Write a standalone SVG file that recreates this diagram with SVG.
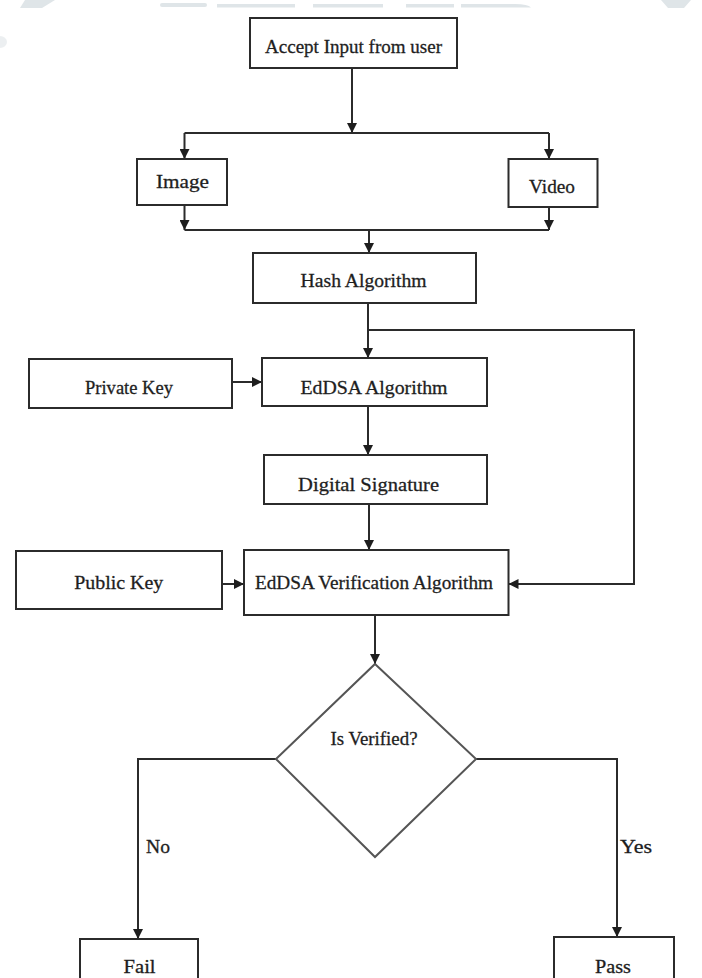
<svg xmlns="http://www.w3.org/2000/svg" width="702" height="978" viewBox="0 0 702 978">
<style>
.box{fill:#fff;stroke:#2b2b2b;stroke-width:2}
.dia{fill:#fff;stroke:#555;stroke-width:2}
.ln{fill:none;stroke:#2b2b2b;stroke-width:2}
.t{font-family:"Liberation Serif","Times New Roman",serif;font-size:19.5px;fill:#1e1e1e;stroke:#1e1e1e;stroke-width:0.3;text-anchor:middle}
.ts{text-anchor:start}
.wm{fill:#dfe5e8}
</style>
<defs>
<marker id="ah" viewBox="0 0 10 10" refX="10" refY="5" markerWidth="10" markerHeight="10" markerUnits="userSpaceOnUse" orient="auto">
<path d="M0,0 L10,5 L0,10 z" fill="#1e1e1e"/>
</marker>
</defs>
<rect width="702" height="978" fill="#fff"/>
<g id="watermark">
<polygon class="wm" points="25,0 55,0 42,8 20,8"/>
<rect class="wm" x="160" y="3" width="47" height="4" rx="2"/>
<rect class="wm" x="217" y="4" width="78" height="3.5"/>
<rect class="wm" x="313" y="4" width="70" height="3.5"/>
<rect class="wm" x="406" y="4" width="48" height="3.5"/>
<path class="wm" d="M461,4 L515,4 Q528,4 531,7.5 L461,7.5 z"/>
<polygon class="wm" points="661,0 691,0 684,8 668,8"/>
<ellipse class="wm" cx="0" cy="42" rx="7" ry="6" opacity="0.6"/>
</g>
<g id="connectors">
<line class="ln" x1="352" y1="68" x2="352" y2="133" marker-end="url(#ah)"/>
<line class="ln" x1="184.5" y1="133" x2="549" y2="133"/>
<line class="ln" x1="184.5" y1="133" x2="184.5" y2="159" marker-end="url(#ah)"/>
<line class="ln" x1="549" y1="133" x2="549" y2="159" marker-end="url(#ah)"/>
<line class="ln" x1="184.5" y1="205" x2="184.5" y2="230" marker-end="url(#ah)"/>
<line class="ln" x1="549" y1="207" x2="549" y2="230" marker-end="url(#ah)"/>
<line class="ln" x1="184.5" y1="230" x2="549" y2="230"/>
<line class="ln" x1="369" y1="230" x2="369" y2="253" marker-end="url(#ah)"/>
<line class="ln" x1="368" y1="303" x2="368" y2="358" marker-end="url(#ah)"/>
<polyline class="ln" points="368,330 634,330 634,584 508.5,584" marker-end="url(#ah)"/>
<line class="ln" x1="232" y1="382" x2="262" y2="382" marker-end="url(#ah)"/>
<line class="ln" x1="368" y1="406" x2="368" y2="455" marker-end="url(#ah)"/>
<line class="ln" x1="369" y1="504" x2="369" y2="550" marker-end="url(#ah)"/>
<line class="ln" x1="222" y1="584" x2="244" y2="584" marker-end="url(#ah)"/>
<line class="ln" x1="375" y1="615" x2="375" y2="664" marker-end="url(#ah)"/>
<polyline class="ln" points="276,759 138,759 138,939" marker-end="url(#ah)"/>
<polyline class="ln" points="476,759 617,759 617,937" marker-end="url(#ah)"/>
<text class="t ts" x="146" y="853" textLength="24" lengthAdjust="spacingAndGlyphs">No</text>
<text class="t ts" x="620" y="853" textLength="32" lengthAdjust="spacingAndGlyphs">Yes</text>
</g>
<g id="accept">
<rect class="box" x="250" y="18" width="207" height="50"/>
<text class="t" x="353.5" y="53" textLength="177" lengthAdjust="spacingAndGlyphs">Accept Input from user</text>
</g>
<g id="image">
<rect class="box" x="137" y="159" width="90" height="46"/>
<text class="t" x="182.5" y="188" textLength="53" lengthAdjust="spacingAndGlyphs">Image</text>
</g>
<g id="video">
<rect class="box" x="508.5" y="159" width="89" height="48"/>
<text class="t" x="552" y="193" textLength="46" lengthAdjust="spacingAndGlyphs">Video</text>
</g>
<g id="hash">
<rect class="box" x="253" y="253" width="223" height="50"/>
<text class="t" x="363.6" y="287" textLength="126" lengthAdjust="spacingAndGlyphs">Hash Algorithm</text>
</g>
<g id="private-key">
<rect class="box" x="29" y="359" width="203" height="49"/>
<text class="t" x="129" y="394" textLength="88" lengthAdjust="spacingAndGlyphs">Private Key</text>
</g>
<g id="eddsa">
<rect class="box" x="262" y="358" width="225" height="48"/>
<text class="t" x="374" y="394" textLength="147" lengthAdjust="spacingAndGlyphs">EdDSA Algorithm</text>
</g>
<g id="digital-signature">
<rect class="box" x="264" y="455" width="223" height="49"/>
<text class="t" x="368.6" y="491" textLength="141" lengthAdjust="spacingAndGlyphs">Digital Signature</text>
</g>
<g id="public-key">
<rect class="box" x="16" y="551" width="206" height="58"/>
<text class="t" x="118.7" y="589" textLength="89" lengthAdjust="spacingAndGlyphs">Public Key</text>
</g>
<g id="verification">
<rect class="box" x="244" y="550" width="264.5" height="65"/>
<text class="t" x="374" y="589" textLength="238" lengthAdjust="spacingAndGlyphs">EdDSA Verification Algorithm</text>
</g>
<g id="decision">
<polygon class="dia" points="375,664 476,759 375,857 276,759"/>
<text class="t" x="374" y="745" textLength="87" lengthAdjust="spacingAndGlyphs">Is Verified?</text>
</g>
<g id="fail">
<rect class="box" x="80" y="939" width="118" height="50"/>
<text class="t" x="139.6" y="973" textLength="32" lengthAdjust="spacingAndGlyphs">Fail</text>
</g>
<g id="pass">
<rect class="box" x="554" y="937" width="120" height="52"/>
<text class="t" x="613" y="973" textLength="36" lengthAdjust="spacingAndGlyphs">Pass</text>
</g>
</svg>
